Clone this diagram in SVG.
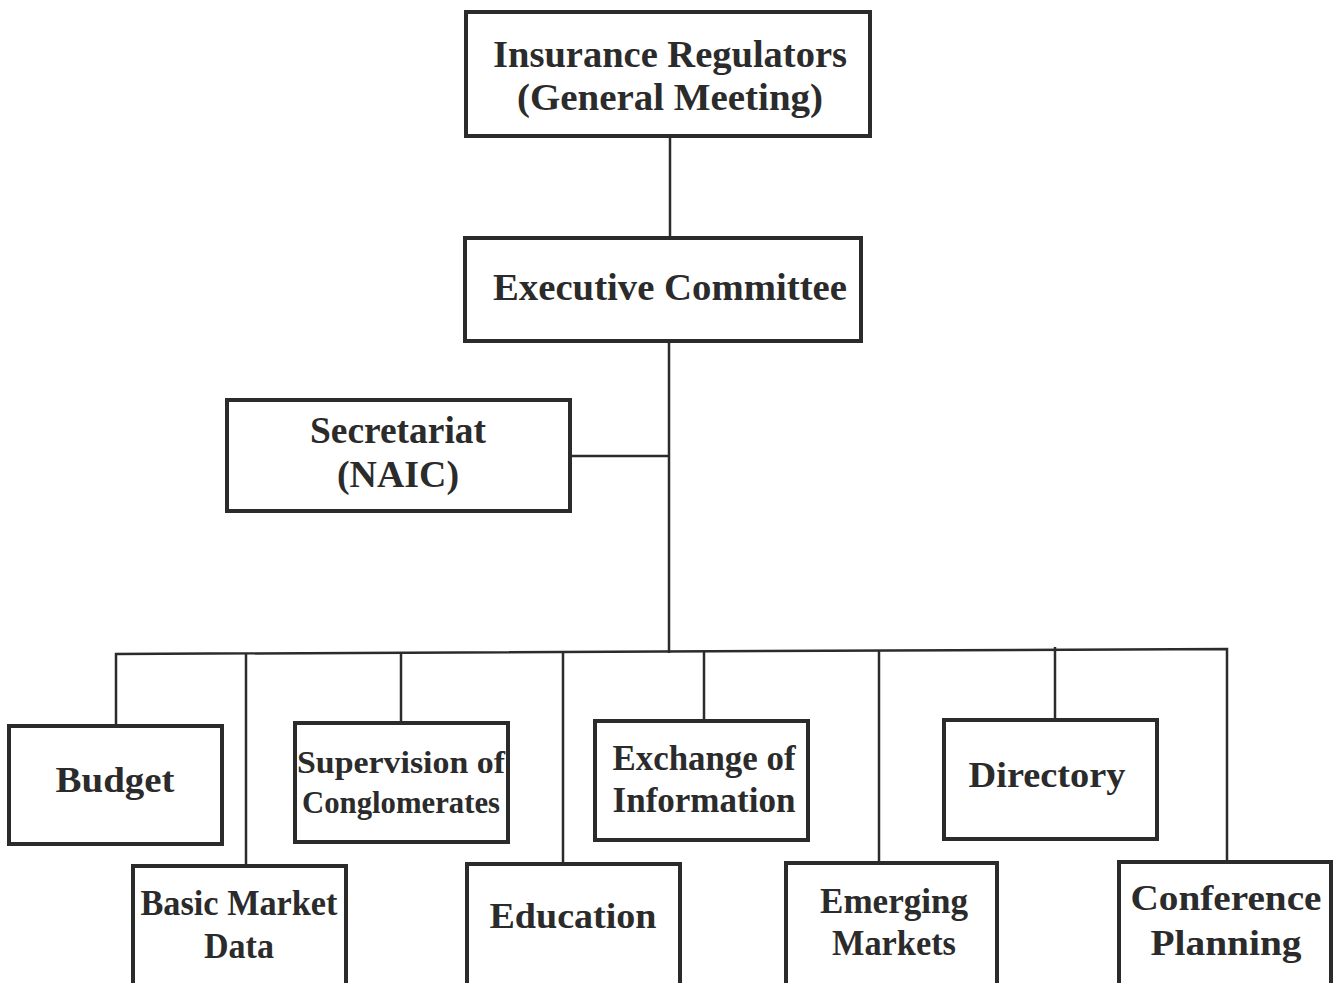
<svg xmlns="http://www.w3.org/2000/svg" width="1337" height="983" viewBox="0 0 1337 983">
<style>
.box{fill:#fff;stroke:#2b2b2b;stroke-width:4}
.ln{stroke:#2b2b2b;stroke-width:2.5;fill:none}
text{font-family:"Liberation Serif","DejaVu Serif",serif;font-weight:bold;fill:#2b2b2b;text-anchor:middle}
.l{font-size:37px}
.m{font-size:35px}
.s{font-size:31px}
</style>
<rect width="1337" height="983" fill="#fff"/>
<g id="connectors">
<line class="ln" x1="670" y1="136" x2="670" y2="238"/>
<line class="ln" x1="669" y1="341" x2="669" y2="653"/>
<line class="ln" x1="570" y1="456" x2="669" y2="456"/>
<polyline class="ln" points="116,726 116,654 1227,649 1227,862"/>
<line class="ln" x1="246" y1="654" x2="246" y2="866"/>
<line class="ln" x1="401" y1="653" x2="401" y2="723"/>
<line class="ln" x1="563" y1="652" x2="563" y2="864"/>
<line class="ln" x1="704" y1="651" x2="704" y2="721"/>
<line class="ln" x1="879" y1="651" x2="879" y2="863"/>
<line class="ln" x1="1055" y1="647" x2="1055" y2="720"/>
</g>
<g id="n-regulators">
<rect class="box" x="466" y="12" width="404" height="124"/>
<text class="l" x="670" y="67" textLength="354" lengthAdjust="spacingAndGlyphs">Insurance Regulators</text>
<text class="l" x="670" y="110" textLength="306" lengthAdjust="spacingAndGlyphs">(General Meeting)</text>
</g>
<g id="n-executive">
<rect class="box" x="465" y="238" width="396" height="103"/>
<text class="l" x="670" y="300" textLength="354" lengthAdjust="spacingAndGlyphs">Executive Committee</text>
</g>
<g id="n-secretariat">
<rect class="box" x="227" y="400" width="343" height="111"/>
<text class="l" x="398" y="443" textLength="176" lengthAdjust="spacingAndGlyphs">Secretariat</text>
<text class="l" x="398" y="487" textLength="122" lengthAdjust="spacingAndGlyphs">(NAIC)</text>
</g>
<g id="n-budget">
<rect class="box" x="9" y="726" width="213" height="118"/>
<text class="m" x="115" y="792" textLength="119" lengthAdjust="spacingAndGlyphs">Budget</text>
</g>
<g id="n-basic">
<rect class="box" x="133" y="866" width="213" height="124"/>
<text class="m" x="239" y="915" textLength="197" lengthAdjust="spacingAndGlyphs">Basic Market</text>
<text class="m" x="239" y="958" textLength="70" lengthAdjust="spacingAndGlyphs">Data</text>
</g>
<g id="n-supervision">
<rect class="box" x="295" y="723" width="213" height="119"/>
<text class="s" x="401" y="773" textLength="208" lengthAdjust="spacingAndGlyphs">Supervision of</text>
<text class="s" x="401" y="813" textLength="198" lengthAdjust="spacingAndGlyphs">Conglomerates</text>
</g>
<g id="n-education">
<rect class="box" x="467" y="864" width="213" height="126"/>
<text class="m" x="573" y="928" textLength="167" lengthAdjust="spacingAndGlyphs">Education</text>
</g>
<g id="n-exchange">
<rect class="box" x="595" y="721" width="213" height="119"/>
<text class="m" x="704" y="770" textLength="183" lengthAdjust="spacingAndGlyphs">Exchange of</text>
<text class="m" x="704" y="812" textLength="183" lengthAdjust="spacingAndGlyphs">Information</text>
</g>
<g id="n-emerging">
<rect class="box" x="786" y="863" width="211" height="127"/>
<text class="m" x="894" y="913" textLength="148" lengthAdjust="spacingAndGlyphs">Emerging</text>
<text class="m" x="894" y="955" textLength="124" lengthAdjust="spacingAndGlyphs">Markets</text>
</g>
<g id="n-directory">
<rect class="box" x="944" y="720" width="213" height="119"/>
<text class="m" x="1047" y="787" textLength="157" lengthAdjust="spacingAndGlyphs">Directory</text>
</g>
<g id="n-conference">
<rect class="box" x="1119" y="862" width="212" height="128"/>
<text class="m" x="1226" y="910" textLength="191" lengthAdjust="spacingAndGlyphs">Conference</text>
<text class="m" x="1226" y="955" textLength="151" lengthAdjust="spacingAndGlyphs">Planning</text>
</g>
</svg>
